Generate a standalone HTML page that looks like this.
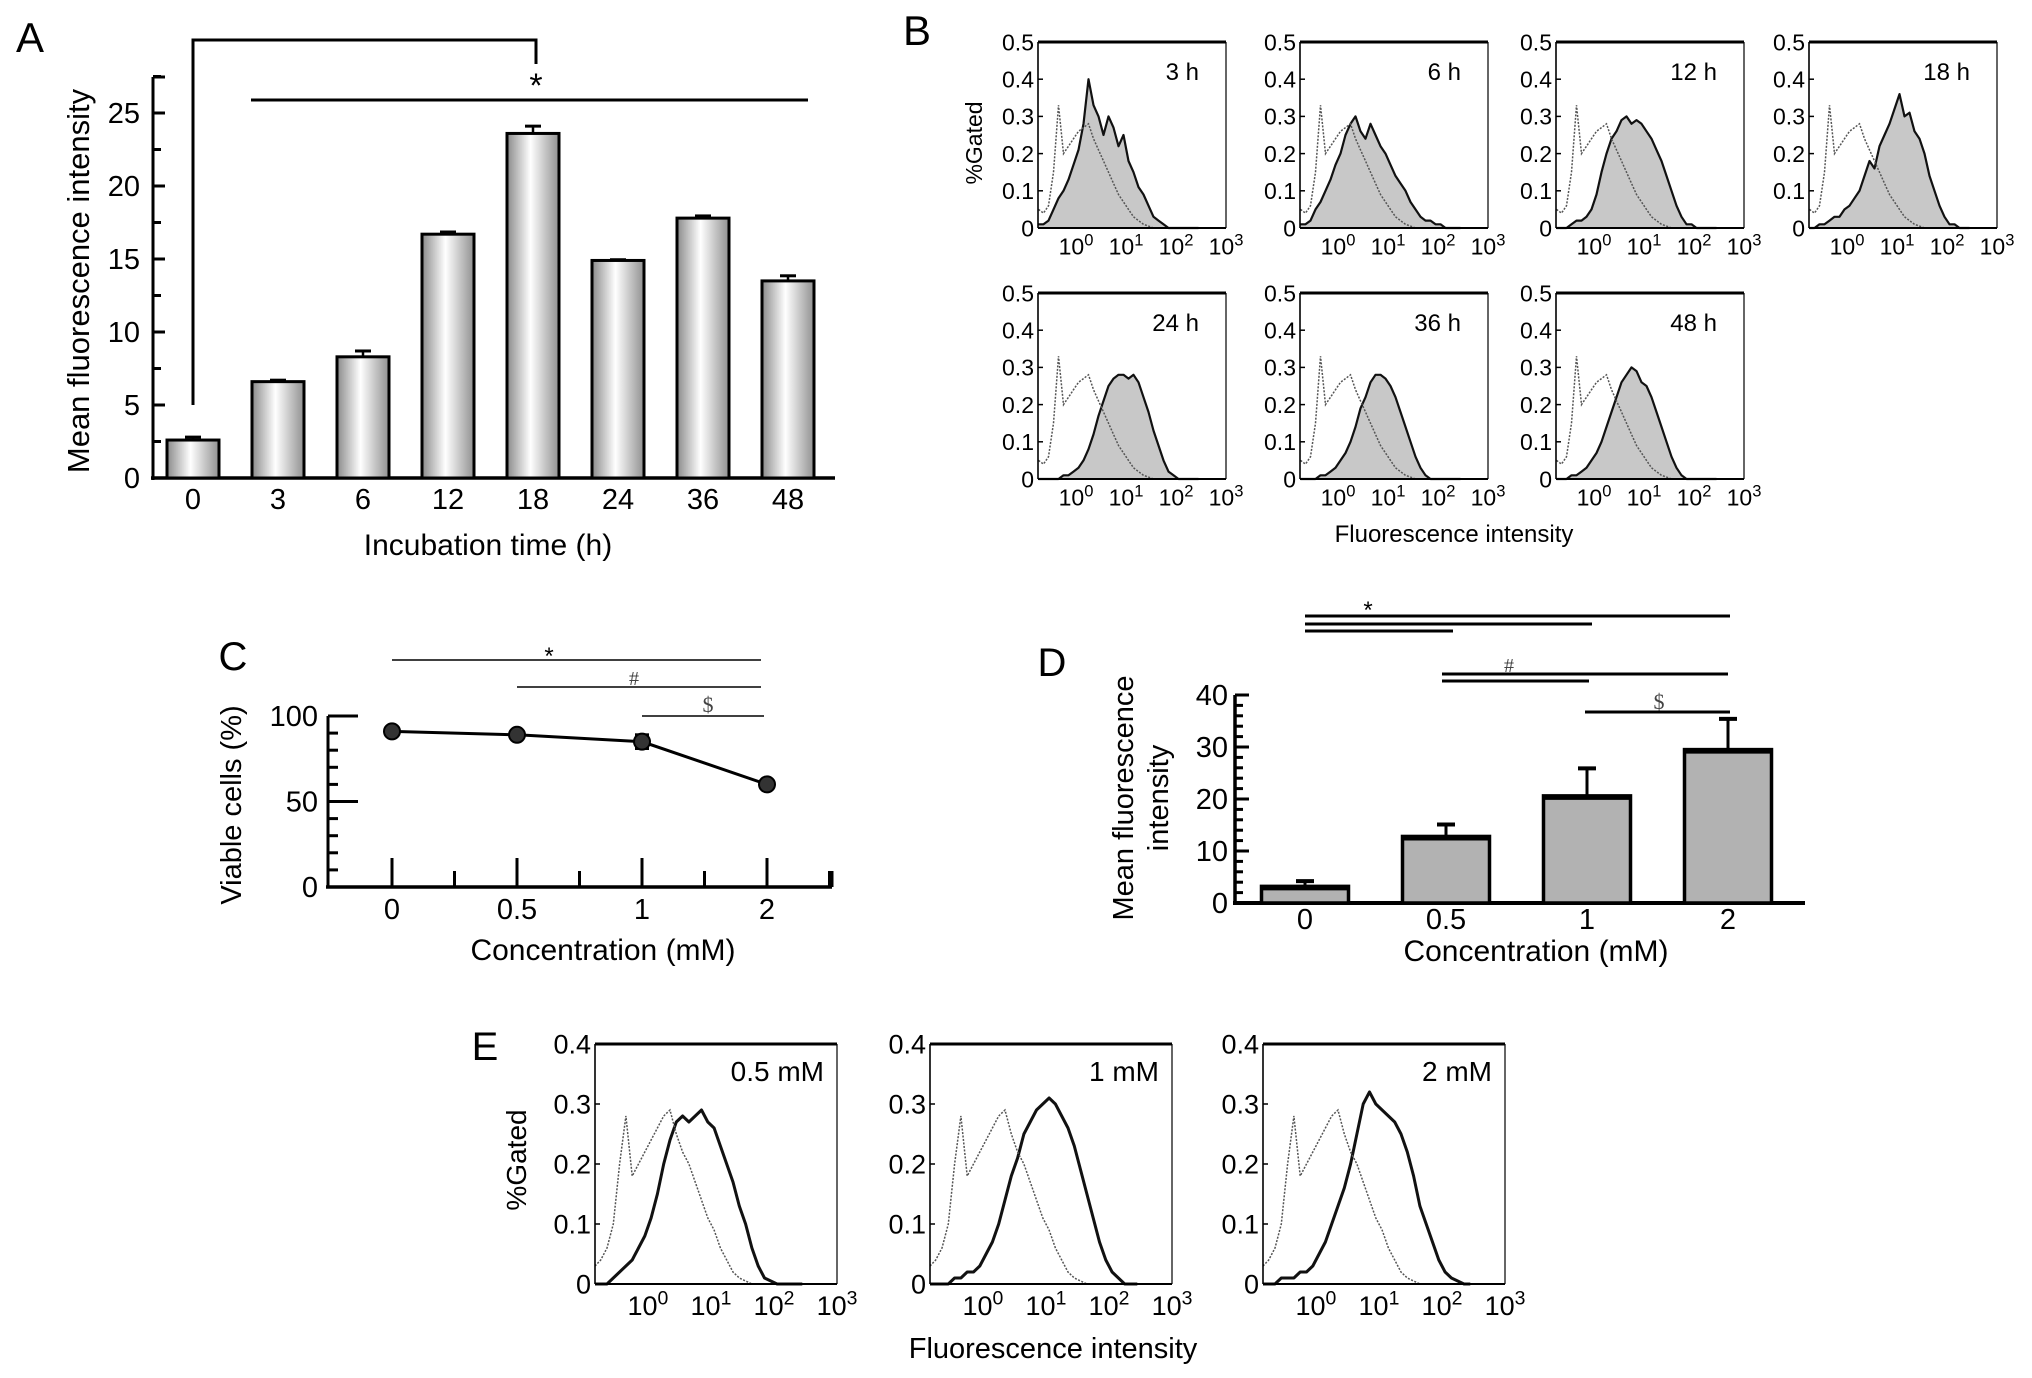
<!DOCTYPE html>
<html><head><meta charset="utf-8"><style>
html,body{margin:0;padding:0;background:#fff;}
svg{display:block;font-family:"Liberation Sans Narrow","Liberation Sans",sans-serif;}
</style></head><body>
<svg id="fig" width="2032" height="1378" viewBox="0 0 2032 1378" xmlns="http://www.w3.org/2000/svg">
<defs>
<linearGradient id="barGrad" x1="0" x2="1" y1="0" y2="0">
<stop offset="0" stop-color="#8a8a8a"/><stop offset="0.45" stop-color="#ffffff"/><stop offset="1" stop-color="#909090"/>
</linearGradient>
</defs>
</svg>
<script>
// ---------- Panel A data ----------
const aCategories = ['0','3','6','12','18','24','36','48'];
const aValues = [2.6, 6.6, 8.3, 16.7, 23.6, 14.9, 17.8, 13.5];
const aErrors = [0.2, 0.1, 0.4, 0.15, 0.5, 0.05, 0.15, 0.35];
const aYTicks = [0, 5, 10, 15, 20, 25];
// ---------- Panel B data (log10 grid starts at -0.75, step 0.1) ----------
const bLabels = ['3 h','6 h','12 h','18 h','24 h','36 h','48 h'];
const bYTicks = [0, 0.1, 0.2, 0.3, 0.4, 0.5];
const bControl = [0.05,0.04,0.06,0.15,0.33,0.2,0.22,0.24,0.26,0.27,0.28,0.24,0.21,0.18,0.15,0.12,0.09,0.07,0.05,0.03,0.02,0.01,0.005,0,0,0,0,0,0,0,0,0,0];
const bSample3 = [0.01,0.01,0.02,0.05,0.08,0.1,0.13,0.17,0.21,0.28,0.4,0.33,0.3,0.25,0.3,0.27,0.22,0.25,0.18,0.15,0.11,0.09,0.06,0.03,0.02,0.01,0,0,0,0,0,0,0];
const bSample6 = [0.01,0.01,0.02,0.05,0.07,0.1,0.13,0.17,0.2,0.25,0.28,0.3,0.26,0.24,0.28,0.25,0.22,0.2,0.17,0.14,0.12,0.1,0.07,0.05,0.03,0.02,0.02,0.01,0.01,0,0,0,0];
const bSample12 = [0,0,0,0.01,0.02,0.02,0.03,0.05,0.09,0.15,0.2,0.24,0.26,0.29,0.3,0.28,0.29,0.28,0.26,0.24,0.21,0.18,0.14,0.1,0.06,0.03,0.01,0.01,0,0,0,0,0];
const bSample18 = [0,0,0.01,0.01,0.02,0.03,0.03,0.05,0.06,0.08,0.1,0.14,0.18,0.16,0.22,0.25,0.28,0.32,0.36,0.3,0.31,0.26,0.24,0.2,0.14,0.1,0.06,0.03,0.01,0.01,0,0,0];
const bSample24 = [0,0,0,0,0,0.01,0.01,0.02,0.03,0.05,0.08,0.12,0.17,0.21,0.25,0.27,0.28,0.28,0.27,0.28,0.26,0.22,0.18,0.13,0.09,0.05,0.02,0.01,0,0,0,0,0];
const bSample36 = [0,0,0,0,0.01,0.01,0.02,0.03,0.05,0.07,0.1,0.14,0.19,0.22,0.26,0.28,0.28,0.27,0.25,0.22,0.18,0.14,0.1,0.06,0.03,0.01,0,0,0,0,0,0,0];
const bSample48 = [0,0,0,0.01,0.01,0.02,0.03,0.05,0.07,0.1,0.14,0.18,0.22,0.26,0.28,0.3,0.29,0.26,0.25,0.22,0.18,0.14,0.1,0.06,0.03,0.01,0,0,0,0,0,0,0];
// ---------- Panel C data ----------
const cCategories = ['0','0.5','1','2'];
const cValues = [91, 89, 85, 60];
const cErrors = [2, 2, 4, 2];
const cYTicks = [0, 50, 100];
// ---------- Panel D data ----------
const dCategories = ['0','0.5','1','2'];
const dValues = [3.2, 12.8, 20.6, 29.5];
const dErrors = [1.0, 2.3, 5.3, 5.9];
const dYTicks = [0, 10, 20, 30, 40];
// ---------- Panel E data (log10 grid starts at -0.85, step 0.1) ----------
const eLabels = ['0.5 mM','1 mM','2 mM'];
const eYTicks = [0, 0.1, 0.2, 0.3, 0.4];
const eControl = [0.03,0.04,0.06,0.1,0.2,0.28,0.18,0.2,0.22,0.24,0.26,0.28,0.29,0.25,0.22,0.2,0.17,0.14,0.11,0.09,0.06,0.04,0.02,0.01,0.005,0,0,0,0,0,0,0,0,0];
const eSample05 = [0,0,0,0.01,0.02,0.03,0.04,0.06,0.08,0.11,0.15,0.2,0.24,0.27,0.28,0.27,0.28,0.29,0.27,0.26,0.23,0.2,0.17,0.13,0.1,0.06,0.03,0.01,0.005,0,0,0,0,0];
const eSample1 = [0,0,0,0,0.01,0.01,0.02,0.02,0.03,0.05,0.07,0.1,0.14,0.18,0.21,0.25,0.27,0.29,0.3,0.31,0.3,0.28,0.26,0.23,0.19,0.15,0.11,0.07,0.04,0.02,0.01,0,0,0];
const eSample2 = [0,0,0,0.01,0.01,0.01,0.02,0.02,0.03,0.05,0.07,0.1,0.13,0.16,0.2,0.25,0.3,0.32,0.3,0.29,0.28,0.27,0.25,0.22,0.18,0.13,0.1,0.07,0.04,0.02,0.01,0.005,0,0];

const NS = 'http://www.w3.org/2000/svg';
const svg = document.getElementById('fig');
function mk(tag, attrs, parent) {
  const e = document.createElementNS(NS, tag);
  for (const k in attrs) e.setAttribute(k, attrs[k]);
  (parent || svg).appendChild(e);
  return e;
}
function txt(str, x, y, size, anchor, parent, extra) {
  const t = mk('text', Object.assign({x: x, y: y, 'font-size': size, 'text-anchor': anchor || 'middle', fill: '#000'}, extra || {}), parent);
  t.textContent = str;
  return t;
}
function line(x1, y1, x2, y2, w, parent, extra) {
  return mk('line', Object.assign({x1: x1, y1: y1, x2: x2, y2: y2, stroke: '#000', 'stroke-width': w}, extra || {}), parent);
}

// ================= Panel A =================
const gA = mk('g', {});


const aX0 = 153, aBase = 478, aPx = 14.6, aStep = 85, aFirst = 193, aBarW = 52;
const aY = v => aBase - v * aPx;
const aX = i => aFirst + i * aStep;
const aLetter = txt('A', 30, 52, 42, 'middle', gA, {'font-family': 'Liberation Sans, sans-serif'});


line(aX0, 77, aX0, aBase + 2, 3, gA);
line(aX0 - 2, aBase, 835, aBase, 3.5, gA);
for (let v = 0; v <= 27.5; v += 2.5) {
  const major = aYTicks.indexOf(v) >= 0;
  line(aX0, aY(v), aX0 + (major ? 12 : 8), aY(v), 3, gA);
}
line(aX0, 77, aX0 + 12, 77, 3, gA);
aYTicks.forEach(v => {
  const t = txt(String(v), 140, aY(v) + 10, 29, 'end', gA);
  
  
});
aValues.forEach((v, i) => {
  const cx = aX(i);
  const r = mk('rect', {x: cx - aBarW / 2, y: aY(v), width: aBarW, height: aBase - aY(v), fill: 'url(#barGrad)', stroke: '#000', 'stroke-width': 3}, gA);
  
  
  line(cx, aY(v), cx, aY(v + aErrors[i]), 2.5, gA);
  line(cx - 8, aY(v + aErrors[i]), cx + 8, aY(v + aErrors[i]), 3, gA);
  const t = txt(aCategories[i], cx, 509, 29, 'middle', gA);
  
  
});
const aYT = txt('Mean fluorescence intensity', 0, 0, 31, 'middle', gA, {transform: 'translate(89,281) rotate(-90)', 'font-family': 'Liberation Sans, sans-serif'});


const aXT = txt('Incubation time (h)', 488, 555, 30, 'middle', gA);


mk('polyline', {points: `${aX(0)},405 ${aX(0)},40 ${aX(4) + 3},40 ${aX(4) + 3},64`, fill: 'none', stroke: '#000', 'stroke-width': 3}, gA);
line(251, 100, 808, 100, 3, gA);
const aStar = txt('*', aX(4) + 3, 97, 34, 'middle', gA);



// ================= Histogram helper =================
function histPanel(parent, left, top, w, h, ymax, yTicks, logStart, logMin, ctrl, sample, label, fillSample, labelRight, labelY, fs) {
  const bottom = top + h;
  const decade = w / (3 - logMin);
  const hx = lg => left + (lg - logMin) * decade;
  const hy = v => bottom - v / ymax * h;
  const g = mk('g', {}, parent);
  
  
  let pts = [];
  sample.forEach((v, i) => { const lg = logStart + i * 0.1; if (lg <= 3) pts.push(hx(Math.max(lg, logMin)).toFixed(1) + ',' + hy(v).toFixed(1)); });
  if (fillSample) {
    const f = mk('polygon', {points: hx(logMin) + ',' + bottom + ' ' + pts.join(' ') + ' ' + hx(Math.min(logStart + (sample.length - 1) * 0.1, 3)) + ',' + bottom, fill: '#c8c8c8', stroke: 'none'}, g);
    
    
  }
  const sl = mk('polyline', {points: pts.join(' '), fill: 'none', stroke: '#111', 'stroke-width': fillSample ? 2.2 : 3, 'stroke-linejoin': 'round'}, g);
  
  
  let cp = [];
  ctrl.forEach((v, i) => { const lg = logStart + i * 0.1; if (lg <= 3) cp.push(hx(Math.max(lg, logMin)).toFixed(1) + ',' + hy(v).toFixed(1)); });
  const cl = mk('polyline', {points: cp.join(' '), fill: 'none', stroke: '#555', 'stroke-width': 1.5, 'stroke-dasharray': '2,1.5'}, g);
  
  
  line(left, top, left, bottom, 1.6, g);
  line(left + w, top, left + w, bottom, 1.2, g);
  line(left, bottom, left + w, bottom, 2, g);
  line(left, top, left + w, top, 3, g);
  yTicks.forEach(v => {
    line(left, hy(v), left + 5, hy(v), 1.5, g);
    const t = txt(String(v), left - 4, hy(v) + fs * 0.36, fs, 'end', g);
    
    
  });
  [0, 1, 2, 3].forEach(p => {
    const t = mk('text', {x: hx(p), y: bottom + fs * 1.15, 'font-size': fs, 'text-anchor': 'middle', fill: '#000'}, g);
    
    
    t.textContent = '10';
    const s = mk('tspan', {'font-size': fs * 0.72, dy: -fs * 0.4}, t);
    s.textContent = String(p);
  });
  const lt = txt(label, left + labelRight, top + labelY, fs + 1, 'end', g);
  
  
}

// ================= Panel B =================
const gB = mk('g', {});


const bLetter = txt('B', 917, 45, 42, 'middle', gB, {'font-family': 'Liberation Sans, sans-serif'});


const bSamples = [bSample3, bSample6, bSample12, bSample18, bSample24, bSample36, bSample48];
const bLefts = [1038, 1300, 1556, 1809];
bSamples.forEach((s, i) => {
  const row = i < 4 ? 0 : 1, col = i < 4 ? i : i - 4;
  histPanel(gB, bLefts[col], row ? 293 : 42, 188, 186, 0.5, bYTicks, -0.75, -0.76, bControl, s, bLabels[i], true, 161, 38, 23);
});
const bYT = txt('%Gated', 0, 0, 23, 'middle', gB, {transform: 'translate(982,143) rotate(-90)', 'font-family': 'Liberation Sans, sans-serif'});


const bXT = txt('Fluorescence intensity', 1454, 542, 24, 'middle', gB, {'font-family': 'Liberation Sans, sans-serif'});



// ================= Panel C =================
const gC = mk('g', {});


const cX0 = 328, cBase = 887, cPx = 1.71, cFirst = 392, cStep = 125;
const cY = v => cBase - v * cPx;
const cX = i => cFirst + i * cStep;
const cLetter = txt('C', 233, 670, 40, 'middle', gC, {'font-family': 'Liberation Sans, sans-serif'});


line(cX0, cY(100), cX0, cBase, 3, gC);
line(cX0 - 2, cBase, 832, cBase, 3.5, gC);
for (let v = 0; v <= 100; v += 10) line(cX0, cY(v), cX0 + (cYTicks.indexOf(v) >= 0 ? 30 : 10), cY(v), 3, gC);
cYTicks.forEach(v => {
  const t = txt(String(v), 318, cY(v) + 10, 29, 'end', gC);
  
  
});
for (let k = 0; k <= 7; k++) {
  const x = cFirst + k * cStep / 2;
  line(x, cBase, x, cBase - (k % 2 === 0 ? 29 : 16), 3, gC);
}
line(832, cBase, 832, cBase - 16, 3, gC);
const cLine = mk('polyline', {points: cValues.map((v, i) => cX(i) + ',' + cY(v)).join(' '), fill: 'none', stroke: '#000', 'stroke-width': 3}, gC);


cValues.forEach((v, i) => {
  line(cX(i), cY(v + cErrors[i]), cX(i), cY(v - cErrors[i]), 3, gC);
  line(cX(i) - 7, cY(v + cErrors[i]), cX(i) + 7, cY(v + cErrors[i]), 3, gC);
  line(cX(i) - 7, cY(v - cErrors[i]), cX(i) + 7, cY(v - cErrors[i]), 3, gC);
  const p = mk('circle', {cx: cX(i), cy: cY(v), r: 8, fill: '#333', stroke: '#000', 'stroke-width': 2}, gC);
  
  
  const t = txt(cCategories[i], cX(i), 919, 29, 'middle', gC);
  
  
});
const cYT = txt('Viable cells (%)', 0, 0, 29, 'middle', gC, {transform: 'translate(241,805) rotate(-90)', 'font-family': 'Liberation Sans, sans-serif'});


const cXT = txt('Concentration (mM)', 603, 960, 30, 'middle', gC);


line(cX(0), 660, 761, 660, 1.6, gC); txt('*', 549, 664, 24, 'middle', gC);
line(cX(1), 687, 761, 687, 1.6, gC); txt('#', 634, 685, 20, 'middle', gC, {'font-family': 'Liberation Serif, serif', fill: '#444'});
line(cX(2), 716, 764, 716, 1.6, gC); txt('$', 708, 712, 22, 'middle', gC, {'font-family': 'Liberation Serif, serif', fill: '#444'});

// ================= Panel D =================
const gD = mk('g', {});


const dX0 = 1235, dBase = 903, dPx = 5.2, dFirst = 1305, dStep = 141, dBarW = 87;
const dY = v => dBase - v * dPx;
const dX = i => dFirst + i * dStep;
const dLetter = txt('D', 1052, 676, 40, 'middle', gD, {'font-family': 'Liberation Sans, sans-serif'});


line(dX0, dY(40), dX0, dBase, 3.5, gD);
line(dX0 - 2, dBase, 1805, dBase, 4, gD);
for (let v = 0; v <= 40; v += 2) line(dX0, dY(v), dX0 + (v % 10 === 0 ? 14 : 8), dY(v), 3, gD);
dYTicks.forEach(v => {
  const t = txt(String(v), 1228, dY(v) + 10, 29, 'end', gD);
  
  
});
dValues.forEach((v, i) => {
  const cx = dX(i);
  line(cx, dY(v), cx, dY(v + dErrors[i]), 3, gD);
  line(cx - 9, dY(v + dErrors[i]), cx + 9, dY(v + dErrors[i]), 4, gD);
  const r = mk('rect', {x: cx - dBarW / 2, y: dY(v), width: dBarW, height: dBase - dY(v), fill: '#b2b2b2', stroke: '#000', 'stroke-width': 3.5}, gD);
  
  
  line(cx - dBarW / 2, dY(v) + 2, cx + dBarW / 2, dY(v) + 2, 4, gD);
  const t = txt(dCategories[i], cx, 929, 29, 'middle', gD);
  
  
});
const dYT = txt('Mean fluorescence', 0, 0, 29, 'middle', gD, {transform: 'translate(1133,798) rotate(-90)', 'font-family': 'Liberation Sans, sans-serif'});


const dYT2 = txt('intensity', 0, 0, 29, 'middle', gD, {transform: 'translate(1168,798) rotate(-90)', 'font-family': 'Liberation Sans, sans-serif'});


const dXT = txt('Concentration (mM)', 1536, 961, 30, 'middle', gD);


line(dX(0), 616, dX(3) + 2, 616, 3, gD);
line(dX(0), 624, dX(2) + 5, 624, 3, gD);
line(dX(0), 631, dX(1) + 7, 631, 3, gD);
txt('*', 1368, 618, 24, 'middle', gD);
line(dX(1) - 4, 674, dX(3), 674, 3, gD);
line(dX(1) - 4, 681, dX(2) + 2, 681, 3, gD);
txt('#', 1509, 672, 20, 'middle', gD, {'font-family': 'Liberation Serif, serif', fill: '#444'});
line(dX(2) - 2, 712, dX(3) + 2, 712, 3, gD);
txt('$', 1659, 709, 22, 'middle', gD, {'font-family': 'Liberation Serif, serif', fill: '#444'});

// ================= Panel E =================
const gE = mk('g', {});


const eLetter = txt('E', 485, 1060, 40, 'middle', gE, {'font-family': 'Liberation Sans, sans-serif'});


const eSamples = [eSample05, eSample1, eSample2];
const eLefts = [595, 930, 1263];
eSamples.forEach((s, i) => {
  histPanel(gE, eLefts[i], 1044, 242, 240, 0.4, eYTicks, -0.85, -0.84, eControl, s, eLabels[i], false, 229, 37, 27);
});
const eYT = txt('%Gated', 0, 0, 28, 'middle', gE, {transform: 'translate(526,1160) rotate(-90)', 'font-family': 'Liberation Sans, sans-serif'});


const eXT = txt('Fluorescence intensity', 1053, 1358, 29, 'middle', gE, {'font-family': 'Liberation Sans, sans-serif'});


</script>
</body></html>
